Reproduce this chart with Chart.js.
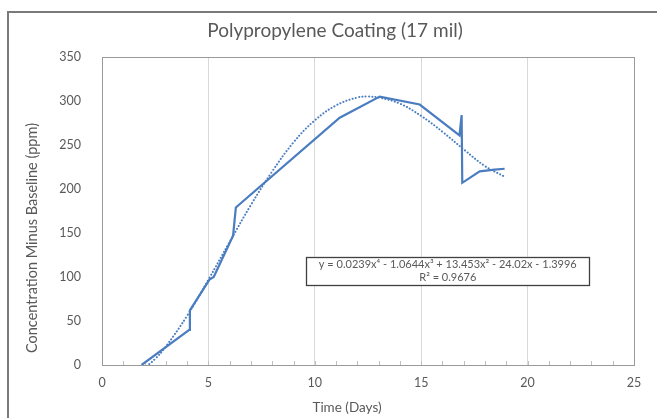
<!DOCTYPE html>
<html>
<head>
<meta charset="utf-8">
<script src="https://cdn.jsdelivr.net/npm/chart.js@4"></script>
<style>
  html, body { margin: 0; padding: 0; background: #fff; }
  #wrap { position: relative; width: 657px; height: 418px; overflow: hidden; }
  #frame { position: absolute; left: 7px; top: 11px; width: 700px; height: 500px; border: 2px solid #7a7a7a; box-sizing: border-box; }
  canvas { position: absolute; left: 0; top: 0; }
</style>
</head>
<body>
<div id="wrap">
  <div id="frame"></div>
  <canvas id="chart" width="657" height="418"></canvas>
</div>
<script>
const days = [1.86, 4.1, 4.13, 5.05, 5.25, 6.16, 6.29, 11.17, 13.05, 14.93, 16.8, 16.9, 16.93, 17.75, 18.45, 18.92];
const conc = [0, 40, 62, 97, 100, 147, 179, 281, 305, 296, 261, 284, 207, 220, 222, 223];

// dotted polynomial trendline
const trendDays = [1.86, 2.5, 3, 4, 5, 6, 7, 8, 9, 10, 11, 12, 12.5, 13, 14, 15, 16, 17, 18, 18.92];
const trendConc = [-6, 7, 21, 56, 97, 140, 182, 220, 253, 278, 295, 304, 305, 304, 297, 283, 265, 245, 226, 214];

const xTicks = [0, 5, 10, 15, 20, 25];
const yTicks = [0, 50, 100, 150, 200, 250, 300, 350];

const titleText = "Polypropylene Coating (17 mil)";
const xTitle = "Time (Days)";
const yTitle = "Concentration Minus Baseline (ppm)";
const eqLine1 = "y = 0.0239x\u2074 - 1.0644x\u00b3 + 13.453x\u00b2 - 24.02x - 1.3996";
const eqLine2 = "R\u00b2 = 0.9676";

const FONT = "Lato, 'Open Sans', sans-serif";
const GREY = "#595959";
const BLUE = "#4a7cc0";

// frame, minor ticks, titles, equation box
const extras = {
  id: "extras",
  beforeDatasetsDraw(chart) {
    const { ctx, chartArea: a } = chart;
    const x = chart.scales.x;
    ctx.save();
    ctx.strokeStyle = "#bfbfbf";
    ctx.lineWidth = 1;
    for (let v = 0; v <= 25; v++) {
      const px = Math.round(x.getPixelForValue(v)) + 0.5;
      ctx.beginPath();
      ctx.moveTo(px, a.bottom);
      ctx.lineTo(px, a.bottom - 4);
      ctx.stroke();
    }
    ctx.strokeStyle = "#9a9a9a";
    ctx.strokeRect(Math.round(a.left) + 0.5, Math.round(a.top) + 0.5, Math.round(a.right - a.left), Math.round(a.bottom - a.top));
    ctx.restore();
  },
  afterDraw(chart) {
    const { ctx } = chart;
    const x = chart.scales.x, y = chart.scales.y;
    ctx.save();
    ctx.fillStyle = GREY;
    ctx.textAlign = "center";
    ctx.textBaseline = "middle";
    ctx.font = "19px " + FONT;
    ctx.fillText(titleText, 335, 31);
    ctx.font = "13.5px " + FONT;
    ctx.fillText(xTitle, 347, 408);
    ctx.font = "14.5px " + FONT;
    ctx.translate(32, 238);
    ctx.rotate(-Math.PI / 2);
    ctx.fillText(yTitle, 0, 0);
    ctx.restore();

    // equation box anchored in data space
    const bx = x.getPixelForValue(9.6), bx2 = x.getPixelForValue(22.9);
    const by = y.getPixelForValue(123), by2 = y.getPixelForValue(91);
    ctx.save();
    ctx.fillStyle = "#fff";
    ctx.fillRect(bx, by, bx2 - bx, by2 - by);
    ctx.strokeStyle = "#404040";
    ctx.lineWidth = 1.3;
    ctx.strokeRect(Math.round(bx) + 0.5, Math.round(by) + 0.5, Math.round(bx2 - bx), Math.round(by2 - by));
    ctx.fillStyle = GREY;
    ctx.font = "11px " + FONT;
    ctx.textAlign = "center";
    ctx.textBaseline = "middle";
    const cx = (bx + bx2) / 2;
    ctx.fillText(eqLine1, cx, by + 8);
    ctx.fillText(eqLine2, cx, by + 21);
    ctx.restore();
  }
};

new Chart(document.getElementById("chart"), {
  type: "scatter",
  data: {
    datasets: [
      {
        label: "Data",
        data: days.map((d, i) => ({ x: d, y: conc[i] })),
        showLine: true,
        borderColor: BLUE,
        borderWidth: 2.2,
        pointRadius: 0,
        tension: 0,
        order: 1
      },
      {
        label: "Trend",
        data: trendDays.map((d, i) => ({ x: d, y: trendConc[i] })),
        showLine: true,
        borderColor: BLUE,
        borderWidth: 2,
        borderDash: [0.1, 3.2],
        borderCapStyle: "round",
        pointRadius: 0,
        tension: 0.4,
        order: 2
      }
    ]
  },
  options: {
    responsive: false,
    animation: false,
    layout: { padding: { left: 0, right: 23, top: 57, bottom: 0 } },
    plugins: {
      legend: { display: false },
      tooltip: { enabled: false },
      title: { display: false }
    },
    scales: {
      x: {
        type: "linear",
        min: 0,
        max: 25,
        afterBuildTicks: s => { s.ticks = xTicks.map(v => ({ value: v })); },
        afterFit: s => { s.height = 53; },
        grid: { color: "#d9d9d9", drawTicks: false },
        border: { display: false },
        ticks: { color: GREY, font: { family: FONT, size: 12.5 }, padding: 10, maxRotation: 0 }
      },
      y: {
        min: 0,
        max: 350,
        afterBuildTicks: s => { s.ticks = yTicks.map(v => ({ value: v })); },
        afterFit: s => { s.width = 102; },
        grid: { display: false },
        border: { display: false },
        ticks: { color: GREY, font: { family: FONT, size: 12.5 }, padding: 13 }
      }
    }
  },
  plugins: [extras]
});
</script>
</body>
</html>
